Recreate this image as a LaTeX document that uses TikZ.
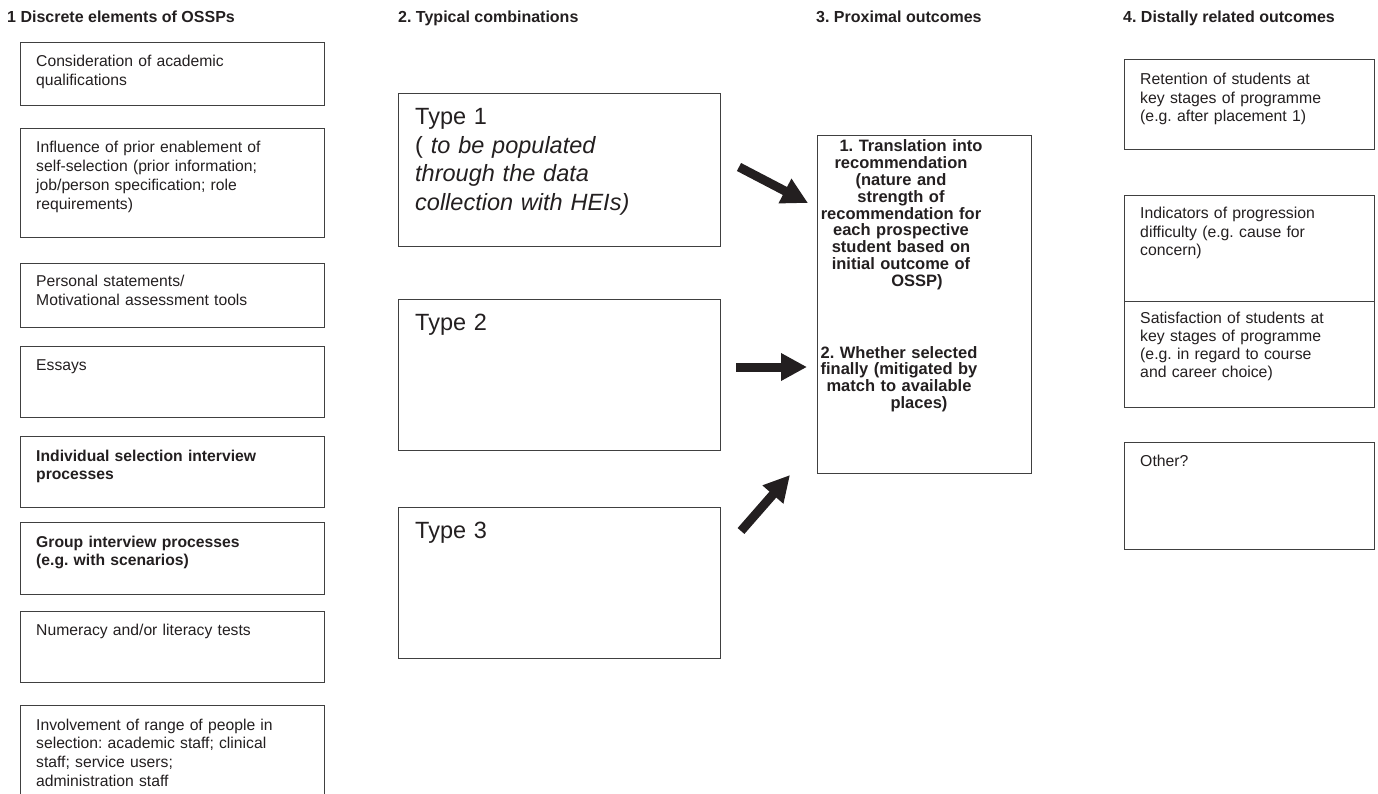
\documentclass[tikz,border=0pt]{standalone}
\usepackage{fontspec}
\setmainfont{Liberation Sans}
\usetikzlibrary{arrows.meta}
\definecolor{ink}{HTML}{231F20}
\definecolor{frame}{HTML}{404040}
\frenchspacing
\begin{document}
\begin{tikzpicture}[x=1pt,y=-1pt,
  boxrect/.style={draw=frame, line width=1.3pt, inner sep=0pt, anchor=north west},
  lbox/.style={boxrect, minimum width=304pt},
  tbox/.style={boxrect, minimum width=322pt},
  rbox/.style={boxrect, minimum width=250pt},
  hdr/.style={anchor=base west, inner sep=0pt, text=ink, font=\fontsize{16}{19}\selectfont\bfseries},
  ltext/.style={anchor=base west, inner sep=0pt, text=ink, text width=285pt, align=left, font=\fontsize{15.7}{18.8}\selectfont},
  rtext/.style={anchor=base west, inner sep=0pt, text=ink, text width=232pt, align=left, font=\fontsize{15.8}{18.3}\selectfont},
  ttext/.style={anchor=base west, inner sep=0pt, text=ink, text width=300pt, align=left, font=\fontsize{23.5}{28.5}\selectfont},
  mtext/.style={anchor=base, inner sep=0pt, text=ink, text width=214pt, align=center, font=\fontsize{16.5}{16.8}\selectfont\bfseries},
  bigarrow/.style={draw=ink, line width=9pt, -{Triangle[length=26pt,width=26pt]}}
]
\clip (0,0) rectangle (1378,794);

% headers
\node[hdr] (h1) at (7,22.7) {1 Discrete elements of OSSPs};
\node[hdr] (h2) at (398,22.7) {2. Typical combinations};
\node[hdr] (h3) at (816,22.7) {3. Proximal outcomes};
\node[hdr] (h4) at (1123,22.7) {4. Distally related outcomes};

% column 1
\node[lbox, minimum height=63pt] (b1) at (20,42) {};
\node[lbox, minimum height=109pt] (b2) at (20,128) {};
\node[lbox, minimum height=64pt] (b3) at (20,263) {};
\node[lbox, minimum height=71pt] (b4) at (20,346) {};
\node[lbox, minimum height=71pt] (b5) at (20,436) {};
\node[lbox, minimum height=72pt] (b6) at (20,522) {};
\node[lbox, minimum height=71pt] (b7) at (20,611) {};
\node[lbox, minimum height=110pt] (b8) at (20,705) {};

\node[ltext] (l1) at (36,67) {Consideration of academic\\qualifications};
\node[ltext] (l2) at (36,153) {Influence of prior enablement of\\self-selection (prior information;\\job/person specification; role\\requirements)};
\node[ltext] (l3) at (36,287) {Personal statements/\\Motivational assessment tools};
\node[ltext] (l4) at (36,370) {Essays};
\node[ltext, font=\fontsize{15.7}{18.8}\selectfont\bfseries] (l5) at (36,461) {Individual selection interview\\processes};
\node[ltext, font=\fontsize{15.7}{18.8}\selectfont\bfseries] (l6) at (36,547) {Group interview processes\\(e.g. with scenarios)};
\node[ltext] (l7) at (36,635) {Numeracy and/or literacy tests};
\node[ltext] (l8) at (36,730) {Involvement of range of people in\\selection: academic staff; clinical\\staff; service users;\\administration staff};

% column 2
\node[tbox, minimum height=153pt] (ty1) at (398,93) {};
\node[tbox, minimum height=151pt] (ty2) at (398,299) {};
\node[tbox, minimum height=151pt] (ty3) at (398,507) {};
\node[ttext] (tt1) at (415,125) {Type 1\\( \textit{to be populated}\\\textit{through the data}\\\textit{collection with HEIs)}};
\node[ttext] (tt2) at (415,330) {Type 2};
\node[ttext] (tt3) at (415,538) {Type 3};

% column 3
\node[boxrect, minimum width=214pt, minimum height=338pt] (mid) at (817,135) {};
\node[mtext] (m1) at (901,152) {\hspace*{20pt}1. Translation into\\recommendation\\(nature and\\strength of\\recommendation for\\each prospective\\student based on\\initial outcome of\\\hspace*{32pt}OSSP)};
\node[mtext] (m2) at (899,358) {2. Whether selected\\finally (mitigated by\\match to available\\\hspace*{40pt}places)};

% arrows
\coordinate (a1s) at (739,167);
\coordinate (a1e) at (808,203);
\coordinate (a2s) at (736,367);
\coordinate (a2e) at (807,367);
\coordinate (a3s) at (741,531);
\coordinate (a3e) at (790,475);
\draw[bigarrow] (a1s) -- (a1e);
\draw[bigarrow] (a2s) -- (a2e);
\draw[bigarrow] (a3s) -- (a3e);

% column 4
\node[rbox, minimum height=90pt] (r1) at (1124,59) {};
\node[rbox, minimum height=106pt] (r2) at (1124,195) {};
\node[rbox, minimum height=106pt] (r3) at (1124,301) {};
\node[rbox, minimum height=107pt] (r4) at (1124,442) {};
\node[rtext] (rt1) at (1140,85) {Retention of students at\\key stages of programme\\(e.g. after placement 1)};
\node[rtext] (rt2) at (1140,219) {Indicators of progression\\difficulty (e.g. cause for\\concern)};
\node[rtext] (rt3) at (1140,323) {Satisfaction of students at\\key stages of programme\\(e.g. in regard to course\\and career choice)};
\node[rtext] (rt4) at (1140,466) {Other?};
\end{tikzpicture}
\end{document}
